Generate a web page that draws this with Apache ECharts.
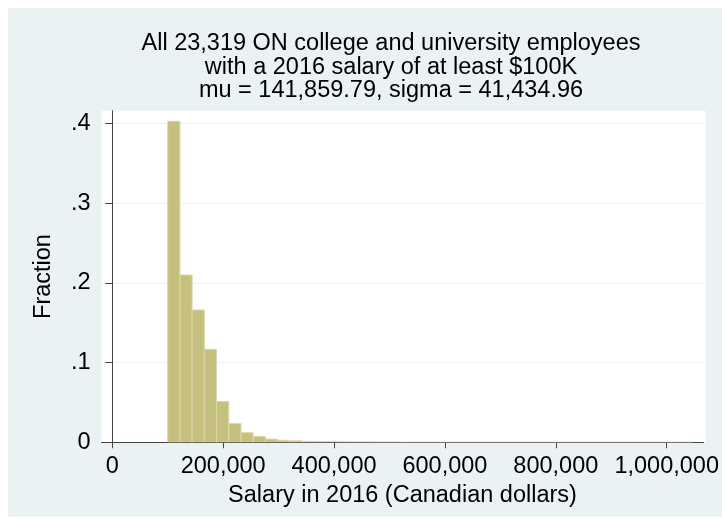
<!DOCTYPE html>
<html>
<head>
<meta charset="utf-8">
<script src="https://cdn.jsdelivr.net/npm/echarts@6/dist/echarts.min.js"></script>
<style>
  html, body { margin: 0; padding: 0; background: #ffffff; }
  #chart { width: 722px; height: 519px; }
</style>
</head>
<body>
<div id="chart"></div>
<script>
// Histogram of 2016 salaries: 43 equal-width bins between the lowest and highest salary
const salaryMin = 100000;
const salaryMax = 1047000;
const fractions = [
  0.4025, 0.2098, 0.1659, 0.1166, 0.0512, 0.0236, 0.0120, 0.0074, 0.0040, 0.0025,
  0.0018, 0.0012, 0.0010, 0.0009, 0.0006, 0.0005, 0.0004, 0.0003, 0.0003, 0.0000,
  0.0000, 0.0000, 0.0000, 0.0000, 0.0000, 0.0000, 0.0000, 0.0000, 0.0000, 0.0000,
  0.0000, 0.0000, 0.0000, 0.0000, 0.0000, 0.0000, 0.0000, 0.0000, 0.0000, 0.0000,
  0.0000, 0.0000, 0.00004
];
const xTicks = [0, 200000, 400000, 600000, 800000, 1000000];
const yTicks = [0, 0.1, 0.2, 0.3, 0.4];
const titleLines = [
  'All 23,319 ON college and university employees',
  'with a 2016 salary of at least $100K',
  'mu = 141,859.79, sigma = 41,434.96'
];
const xTitle = 'Salary in 2016 (Canadian dollars)';
const yTitle = 'Fraction';

const binWidth = (salaryMax - salaryMin) / fractions.length;
const bins = fractions.map((f, i) => [salaryMin + i * binWidth, salaryMin + (i + 1) * binWidth, f]);

const FONT = 'Liberation Sans';
const FS = 23.5;
const chart = echarts.init(document.getElementById('chart'), null, { renderer: 'canvas' });

chart.setOption({
  animation: false,
  backgroundColor: '#ffffff',
  graphic: [{
    type: 'rect', z: -10, silent: true,
    shape: { x: 8, y: 8, width: 714, height: 509 },
    style: { fill: '#eaf2f3' }
  }, {
    type: 'rect', z: -9, silent: true,
    shape: { x: 101.5, y: 110.7, width: 604.2, height: 331.6 },
    style: { fill: '#ffffff' }
  }, {
    type: 'text', z: 10, silent: true,
    x: 391, y: 32,
    style: {
      text: titleLines.join('\n'),
      fontFamily: FONT, fontSize: FS, lineHeight: 23.5, fill: '#000',
      align: 'center', verticalAlign: 'top'
    }
  }],
  grid: { left: 101.5, right: 16.3, top: 110.7, bottom: 76.7, containLabel: false },
  xAxis: {
    type: 'value', min: -19400, max: 1066300,
    name: xTitle, nameLocation: 'middle', nameGap: 37,
    nameTextStyle: { fontFamily: FONT, fontSize: FS, color: '#000' },
    axisLine: { show: true, onZero: false, lineStyle: { color: '#444', width: 1 } },
    axisTick: { show: true, customValues: xTicks, length: 6, lineStyle: { color: '#444' } },
    axisLabel: {
      customValues: xTicks, margin: 12, fontFamily: FONT, fontSize: FS, color: '#000',
      hideOverlap: false,
      formatter: v => v.toLocaleString('en-US')
    },
    splitLine: { show: false }
  },
  yAxis: {
    type: 'value', min: 0, max: 0.4158, interval: 0.1,
    name: yTitle, nameLocation: 'middle', nameGap: 46, nameRotate: 90,
    nameTextStyle: { fontFamily: FONT, fontSize: FS, color: '#000' },
    axisLine: { show: true, lineStyle: { color: '#444', width: 1 } },
    axisTick: { show: true, customValues: yTicks, length: 7, lineStyle: { color: '#444' } },
    axisLabel: {
      customValues: yTicks, margin: 11, fontFamily: FONT, fontSize: FS, color: '#000',
      formatter: v => v === 0 ? '0' : String(+v.toFixed(1)).replace(/^0/, '')
    },
    splitLine: { show: true, lineStyle: { color: '#eaf2f3', width: 1 } }
  },
  series: [{
    type: 'custom',
    clip: true,
    data: bins,
    encode: { x: [0, 1], y: 2 },
    renderItem: (params, api) => {
      const lo = api.coord([api.value(0), 0]);
      const hi = api.coord([api.value(1), api.value(2)]);
      return {
        type: 'rect',
        shape: { x: lo[0], y: hi[1], width: hi[0] - lo[0], height: lo[1] - hi[1] },
        style: { fill: '#c6c07f', stroke: '#dcd8a8', lineWidth: 1 }
      };
    }
  }]
});
</script>
</body>
</html>
